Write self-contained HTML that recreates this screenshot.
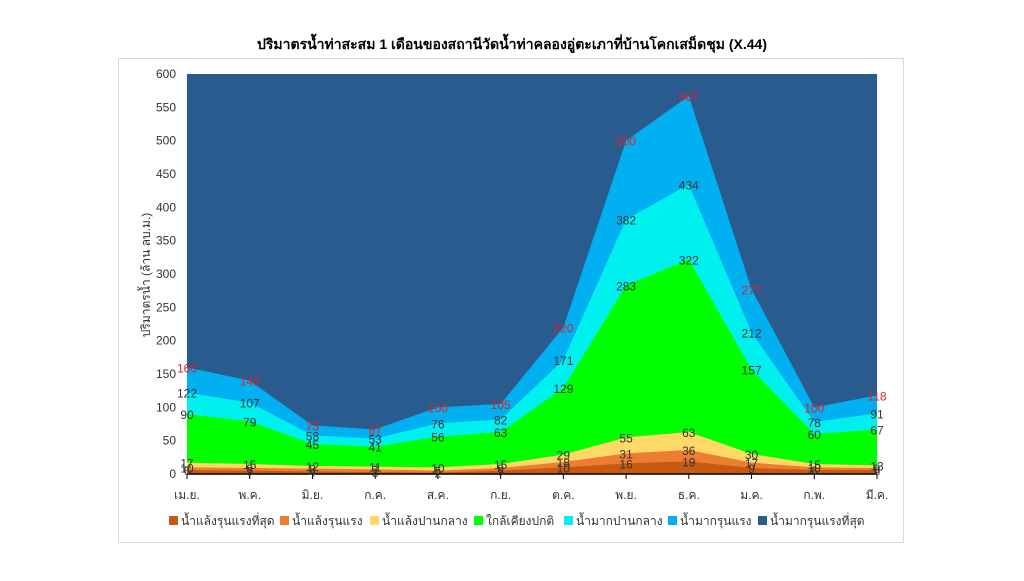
<!DOCTYPE html>
<html><head><meta charset="utf-8"><style>
body{margin:0;background:#fff;}
svg text{font-family:"Liberation Sans","Noto Sans CJK SC",sans-serif;}
</style></head><body>
<svg width="1024" height="576" xmlns="http://www.w3.org/2000/svg">
<rect x="0" y="0" width="1024" height="576" fill="#fff"/>
<rect x="118.5" y="58.5" width="785" height="484" fill="#fff" stroke="#d9d9d9"/>
<text x="512" y="49" text-anchor="middle" font-size="14" font-weight="bold" fill="#000">ปริมาตรน้ำท่าสะสม 1 เดือนของสถานีวัดน้ำท่าคลองอู่ตะเภาที่บ้านโคกเสม็ดชุม (X.44)</text>
<g id="areas"></g>
<g id="axes"></g>
<g id="labels"></g>
<text transform="translate(150,275) rotate(-90)" text-anchor="middle" font-size="12" fill="#333">ปริมาตรน้ำ (ล้าน ลบ.ม.)</text>
<g font-size="12" fill="#333">
<rect x="169" y="516" width="9" height="9" fill="#c55a11"/><text x="181" y="525">น้ำแล้งรุนแรงที่สุด</text>
<rect x="280" y="516" width="9" height="9" fill="#ed7d31"/><text x="292" y="525">น้ำแล้งรุนแรง</text>
<rect x="370" y="516" width="9" height="9" fill="#ffd966"/><text x="382" y="525">น้ำแล้งปานกลาง</text>
<rect x="474" y="516" width="9" height="9" fill="#00ff00"/><text x="486" y="525">ใกล้เคียงปกติ</text>
<rect x="564" y="516" width="9" height="9" fill="#00f0f0"/><text x="576" y="525">น้ำมากปานกลาง</text>
<rect x="668" y="516" width="9" height="9" fill="#00b0f0"/><text x="680" y="525">น้ำมากรุนแรง</text>
<rect x="758" y="516" width="9" height="9" fill="#2a5b8f"/><text x="770" y="525">น้ำมากรุนแรงที่สุด</text>
</g>
<script>
var ns="http://www.w3.org/2000/svg";
var m=["เม.ย.","พ.ค.","มิ.ย.","ก.ค.","ส.ค.","ก.ย.","ต.ค.","พ.ย.","ธ.ค.","ม.ค.","ก.พ.","มี.ค."];
var L=[[6,5,4,3,2,5,10,16,19,9,6,6],[10,9,8,7,5,9,18,31,36,17,10,9],[17,15,12,11,10,15,29,55,63,30,15,13],[90,79,45,41,56,63,129,283,322,157,60,67],[122,107,58,53,76,82,171,382,434,212,78,91],[160,140,73,67,100,105,220,500,567,277,100,118],[600,600,600,600,600,600,600,600,600,600,600,600]];
var col=["#c55a11","#ed7d31","#ffd966","#00ff00","#00f0f0","#00b0f0","#2a5b8f"];
function X(i){return 187+i*690/11;}function Y(v){return 474-v*400/600;}
var A=document.getElementById("areas");
for(var k=6;k>=0;k--){var d="M"+X(0)+","+Y(0);for(var i=0;i<12;i++)d+=" L"+X(i)+","+Y(L[k][i]);d+=" L"+X(11)+","+Y(0)+"Z";var p=document.createElementNS(ns,"path");p.setAttribute("d",d);p.setAttribute("fill",col[k]);A.appendChild(p);}
var G=document.getElementById("axes");
function el(t,a,par,txt){var e=document.createElementNS(ns,t);for(var q in a)e.setAttribute(q,a[q]);if(txt!=null)e.textContent=txt;(par||G).appendChild(e);return e;}
el("line",{x1:187,y1:474,x2:877,y2:474,stroke:"#000","stroke-width":1.5});
for(var v=0;v<=600;v+=50)el("text",{x:176,y:Y(v)+4,"text-anchor":"end","font-size":12,fill:"#333"},null,v);
for(var i=0;i<12;i++){el("line",{x1:X(i),y1:474,x2:X(i),y2:479,stroke:"#000"});el("text",{x:X(i),y:499,"text-anchor":"middle","font-size":12,fill:"#333"},null,m[i]);}
var T=document.getElementById("labels");
for(var k=0;k<6;k++)for(var i=0;i<12;i++)el("text",{x:X(i),y:Y(L[k][i])+5,"text-anchor":"middle","font-size":12,fill:k==5?"#e0202a":"#333"},T,L[k][i]);
</script>
</svg>
</body></html>
